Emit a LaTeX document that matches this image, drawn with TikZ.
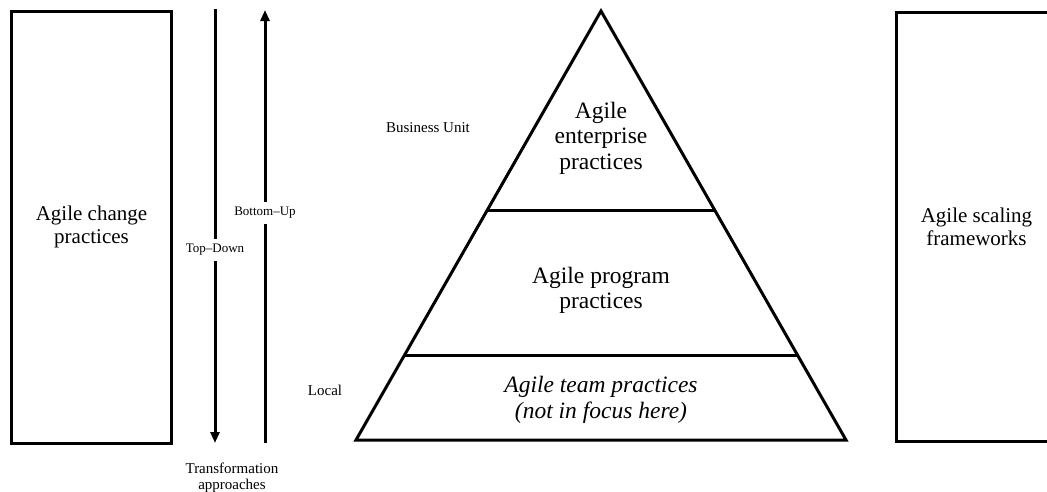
\documentclass[tikz,border=0pt]{standalone}
\usepackage{fontspec}
\setmainfont{Liberation Serif}
\usetikzlibrary{arrows.meta,calc}

\begin{document}
\begin{tikzpicture}[x=1pt,y=-1pt,>={Triangle[width=9pt,length=11pt]},
  line width=3pt,line join=miter,
  side box/.style={draw,minimum width=160pt,align=center,font=\fontsize{21}{23}\selectfont},
  level text/.style={align=center,font=\fontsize{23.5}{25.5}\selectfont},
  small label/.style={align=center,font=\fontsize{15}{16}\selectfont},
  arrow label/.style={fill=white,inner xsep=1pt,inner ysep=5pt,font=\fontsize{13}{14}\selectfont}]
  \useasboundingbox (0,0) rectangle (1047,491);

  % the two side boxes
  \node[side box,minimum height=432pt] (change) at (91.5,227) {Agile change\\practices};
  \node[side box,minimum height=429pt] (scaling) at (976.5,227) {Agile scaling\\frameworks};

  % transformation directions
  \coordinate (td start) at (215,9);
  \coordinate (td end)   at (215,443);
  \coordinate (bu start) at (265,443);
  \coordinate (bu end)   at (265,10);
  \draw[->] (td start) -- node[arrow label,pos=0.555] (topdown) {Top--Down} (td end);
  \draw[->] (bu start) -- node[arrow label,pos=0.531] (bottomup) {Bottom--Up} (bu end);
  \node[small label] (approaches) at (232,478) {Transformation\\approaches};

  % pyramid
  \coordinate (apex) at (601,11);
  \coordinate (bl) at (356,440);
  \coordinate (br) at (846,440);
  \draw (apex) -- (bl) -- (br) -- cycle;
  \coordinate (cut1l) at ($(apex)!0.466!(bl)$);
  \coordinate (cut1r) at ($(apex)!0.466!(br)$);
  \coordinate (cut2l) at ($(apex)!0.803!(bl)$);
  \coordinate (cut2r) at ($(apex)!0.803!(br)$);
  \draw (cut1l) -- (cut1r);
  \draw (cut2l) -- (cut2r);

  \node[level text] (enterprise) at (601,138) {Agile\\enterprise\\practices};
  \node[level text] (program) at (601,290.5) {Agile program\\practices};
  \node[level text,font=\fontsize{23.5}{25.5}\selectfont\itshape] (team) at (601,400) {Agile team practices\\(not in focus here)};

  % levels
  \node[small label] (business) at (428,128) {Business Unit};
  \node[small label] (local) at (325,390) {Local};
\end{tikzpicture}
\end{document}
